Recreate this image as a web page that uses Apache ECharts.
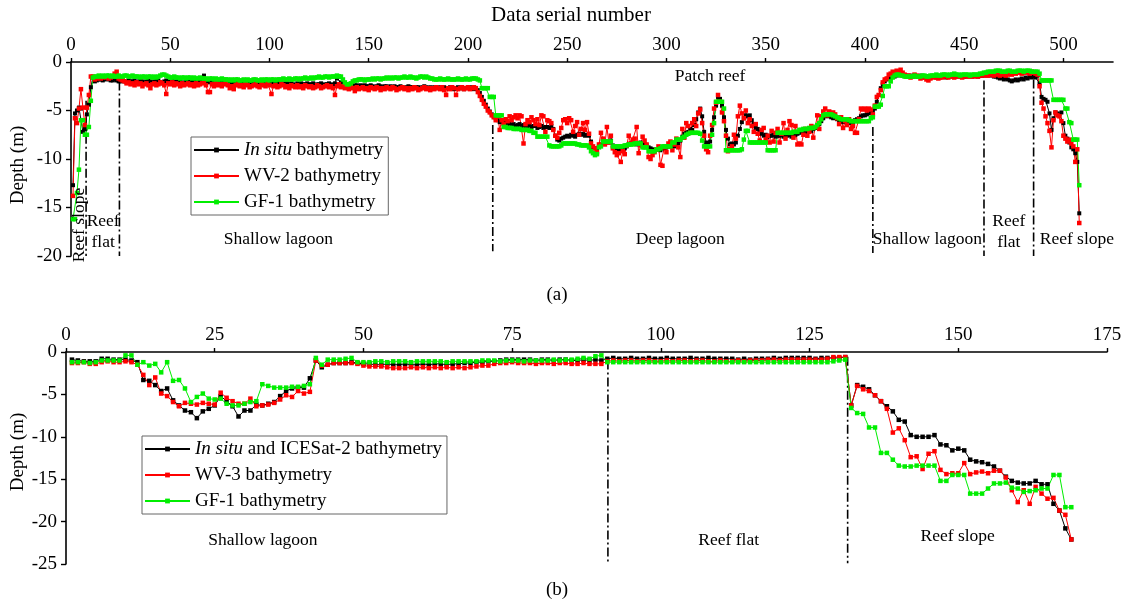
<!DOCTYPE html>
<html>
<head>
<meta charset="utf-8">
<script src="https://cdn.jsdelivr.net/npm/echarts@6/dist/echarts.min.js"></script>
<style>
  html, body { margin: 0; padding: 0; background: #fff; }
  #chart { width: 1130px; height: 608px; }
</style>
</head>
<body>
<div id="chart"></div>
<script>
// ---------- Profile (a): depth along the transect, data serial number 1..508 ----------
const insituA = [
  -12.7,-5.3,-5.0,-4.7,-4.8,-7.2,-6.9,-5.4,-4.4,-2.6,-1.6,-2.0,-1.9,-1.8,-1.8,-1.9,-1.8,-1.7,-1.8,-1.9,
  -1.9,-1.8,-1.9,-2.0,-2.0,-1.9,-2.0,-2.1,-1.9,-2.0,-2.0,-1.9,-2.1,-2.0,-1.9,-2.0,-2.1,-2.0,-1.9,-2.0,
  -2.1,-2.0,-2.0,-1.9,-2.1,-2.2,-2.0,-1.9,-2.0,-2.1,-2.0,-2.0,-2.1,-1.9,-2.0,-2.2,-2.1,-2.0,-2.0,-2.1,
  -2.0,-2.1,-2.0,-1.9,-2.0,-1.7,-1.4,-1.9,-2.1,-2.0,-2.1,-2.2,-2.0,-2.1,-2.0,-2.1,-2.2,-2.1,-2.0,-2.1,
  -2.2,-2.1,-2.1,-2.0,-2.2,-2.1,-2.2,-2.1,-2.0,-2.2,-2.1,-2.2,-2.3,-2.1,-2.2,-2.1,-2.2,-2.3,-2.2,-2.2,
  -2.3,-2.2,-2.2,-2.1,-2.3,-2.2,-2.3,-2.2,-2.2,-2.3,-2.2,-2.3,-2.4,-2.2,-2.3,-2.2,-2.3,-2.3,-2.2,-2.3,
  -2.3,-2.2,-2.4,-2.3,-2.3,-2.2,-2.4,-2.3,-2.3,-2.2,-2.3,-2.4,-2.2,-1.7,-1.5,-2.1,-2.3,-2.4,-2.4,-2.5,
  -2.4,-2.5,-2.4,-2.4,-2.5,-2.4,-2.5,-2.4,-2.5,-2.5,-2.4,-2.5,-2.6,-2.5,-2.4,-2.5,-2.6,-2.5,-2.5,-2.6,
  -2.5,-2.6,-2.5,-2.6,-2.6,-2.5,-2.6,-2.7,-2.6,-2.5,-2.6,-2.6,-2.7,-2.6,-2.6,-2.7,-2.6,-2.5,-2.6,-2.7,
  -2.6,-2.7,-2.6,-2.6,-2.7,-2.6,-2.7,-2.6,-2.7,-2.7,-2.6,-2.7,-2.8,-2.7,-2.6,-2.7,-2.7,-2.8,-2.7,-2.6,
  -2.7,-2.6,-2.8,-2.7,-2.9,-3.2,-3.6,-4.0,-4.4,-4.8,-5.1,-5.4,-5.6,-5.8,-6.0,-6.2,-6.1,-6.3,-6.2,-6.4,
  -6.3,-6.5,-6.4,-6.6,-6.5,-6.4,-6.6,-6.5,-6.7,-6.6,-6.5,-6.7,-6.6,-6.6,-6.8,-6.7,-6.6,-6.8,-6.7,-6.7,
  -6.8,-6.6,-6.9,-7.6,-8.0,-8.1,-7.9,-7.8,-7.7,-7.6,-7.7,-7.5,-7.6,-7.7,-7.5,-7.4,-7.5,-7.4,-7.6,-7.5,
  -7.6,-8.2,-8.8,-8.9,-9.0,-8.7,-8.5,-8.3,-8.2,-8.2,-8.3,-8.1,-8.6,-8.9,-9.1,-9.2,-9.0,-9.1,-8.9,-8.7,
  -8.5,-8.4,-8.3,-8.4,-8.5,-8.4,-8.3,-8.4,-8.5,-8.6,-8.8,-8.9,-9.0,-9.1,-9.0,-9.0,-9.1,-8.9,-8.9,-8.8,
  -8.7,-8.7,-8.6,-8.7,-8.6,-8.4,-8.1,-7.7,-7.4,-7.3,-7.2,-6.9,-7.0,-6.5,-5.9,-5.2,-4.8,-5.6,-7.2,-8.3,
  -8.4,-8.2,-7.0,-5.7,-4.5,-3.6,-3.8,-4.5,-5.7,-7.0,-7.9,-8.5,-8.4,-8.5,-8.3,-7.6,-6.9,-6.2,-5.8,-5.5,
  -5.6,-5.5,-6.0,-6.4,-6.8,-6.9,-7.2,-7.4,-7.6,-7.5,-7.7,-7.6,-7.6,-7.5,-7.7,-7.6,-7.6,-7.5,-7.7,-7.6,
  -7.6,-7.5,-7.7,-7.6,-7.5,-7.4,-7.3,-7.2,-7.1,-7.2,-7.1,-7.0,-7.1,-6.9,-6.8,-6.6,-6.4,-6.1,-5.8,-5.6,
  -5.5,-5.6,-5.7,-5.8,-5.7,-5.9,-6.0,-6.1,-6.2,-6.1,-6.2,-6.3,-6.1,-6.2,-6.0,-5.9,-5.8,-5.6,-5.5,-5.5,
  -5.4,-5.3,-5.2,-5.1,-4.8,-4.1,-3.4,-2.7,-2.3,-2.0,-1.8,-1.7,-1.6,-1.5,-1.5,-1.4,-1.3,-1.3,-1.4,-1.4,
  -1.4,-1.5,-1.4,-1.5,-1.4,-1.5,-1.5,-1.4,-1.5,-1.6,-1.5,-1.5,-1.6,-1.5,-1.5,-1.6,-1.5,-1.6,-1.5,-1.5,
  -1.6,-1.5,-1.5,-1.4,-1.5,-1.5,-1.4,-1.5,-1.4,-1.5,-1.5,-1.4,-1.4,-1.5,-1.4,-1.4,-1.5,-1.4,-1.4,-1.4,
  -1.3,-1.4,-1.3,-1.4,-1.5,-1.5,-1.6,-1.7,-1.6,-1.8,-1.7,-1.8,-1.9,-2.0,-1.9,-1.8,-1.9,-1.8,-1.7,-1.8,
  -1.6,-1.7,-1.5,-1.6,-1.5,-1.6,-1.4,-2.2,-3.6,-3.8,-3.9,-4.1,-5.3,-7.0,-5.8,-5.2,-5.3,-5.4,-5.2,-6.3,
  -7.6,-7.9,-8.3,-8.8,-9.0,-9.4,-10.3,-15.6
];
const wv2A = [
  -13.8,-5.8,-6.3,-4.8,-2.8,-4.7,-6.5,-4.7,-3.4,-1.5,-1.5,-1.8,-1.7,-1.6,-1.7,-1.6,-1.5,-1.6,-1.7,-1.6,
  -1.5,-1.2,-1.0,-1.7,-1.8,-1.9,-2.0,-2.2,-2.1,-2.3,-2.2,-2.4,-2.1,-2.3,-2.2,-2.5,-2.3,-2.2,-2.4,-2.7,
  -2.3,-2.2,-2.4,-2.3,-2.1,-2.2,-2.4,-3.3,-2.2,-2.3,-2.1,-2.4,-2.2,-2.3,-2.5,-2.2,-2.4,-2.3,-2.2,-2.4,
  -2.3,-2.5,-2.2,-2.4,-2.3,-2.2,-2.1,-2.4,-3.1,-3.1,-2.3,-2.5,-2.2,-2.4,-2.3,-2.5,-2.3,-2.2,-2.4,-2.7,
  -2.5,-2.8,-2.4,-2.3,-2.5,-2.4,-2.6,-2.3,-2.4,-2.6,-2.5,-2.4,-2.3,-2.5,-2.6,-2.3,-2.4,-2.5,-2.2,-2.4,
  -3.3,-2.5,-2.4,-2.6,-2.5,-2.3,-2.4,-2.6,-2.5,-2.7,-2.4,-2.5,-2.6,-2.4,-2.6,-2.5,-2.7,-2.4,-2.5,-2.6,
  -2.5,-2.7,-2.6,-2.4,-2.5,-2.7,-2.6,-2.5,-2.4,-2.6,-2.5,-2.7,-3.4,-2.5,-2.3,-2.6,-2.5,-2.7,-2.6,-2.8,
  -2.6,-2.7,-3.0,-2.6,-2.8,-2.7,-2.6,-2.8,-2.7,-2.9,-2.6,-2.7,-2.8,-2.6,-2.7,-2.9,-2.7,-2.8,-2.6,-2.7,
  -2.8,-2.6,-2.7,-2.9,-2.8,-2.7,-2.6,-2.8,-2.7,-2.9,-2.7,-2.8,-2.6,-2.7,-2.9,-2.8,-2.7,-2.6,-2.8,-2.7,
  -2.9,-2.7,-2.8,-2.6,-2.7,-2.8,-2.6,-2.9,-3.4,-2.7,-2.8,-2.6,-2.7,-3.4,-2.8,-2.7,-2.6,-2.8,-2.7,-2.6,
  -2.8,-2.7,-2.6,-2.7,-3.1,-3.5,-3.9,-4.3,-4.6,-5.0,-5.2,-5.5,-5.7,-6.0,-5.6,-7.0,-6.0,-6.4,-5.9,-6.1,
  -5.6,-6.0,-5.7,-5.5,-5.8,-5.5,-5.6,-8.4,-6.4,-6.0,-6.2,-5.7,-6.0,-6.4,-5.9,-6.5,-5.5,-5.6,-7.2,-6.0,
  -6.1,-6.3,-7.0,-7.6,-7.8,-7.3,-6.8,-6.0,-5.9,-6.3,-5.8,-6.0,-7.2,-6.6,-6.2,-7.5,-6.9,-6.3,-7.0,-6.2,
  -7.4,-8.4,-8.7,-8.9,-9.3,-8.5,-7.3,-7.9,-8.5,-6.7,-8.3,-7.6,-8.9,-9.3,-9.6,-9.4,-10.3,-9.2,-9.5,-8.6,
  -7.6,-8.4,-8.0,-7.9,-6.7,-9.4,-8.6,-7.7,-8.1,-8.5,-9.8,-10.0,-9.6,-9.3,-9.0,-8.7,-10.6,-10.7,-8.8,-9.3,
  -8.4,-8.2,-9.1,-8.5,-7.9,-8.8,-9.8,-6.9,-7.8,-6.3,-6.6,-7.3,-6.3,-5.9,-6.6,-5.3,-4.9,-6.3,-7.6,-9.0,
  -9.3,-7.6,-6.5,-4.8,-4.2,-3.4,-4.1,-5.2,-6.1,-7.6,-9.2,-9.0,-8.7,-7.5,-7.9,-5.6,-4.5,-5.3,-5.8,-5.0,
  -6.3,-5.9,-6.6,-7.2,-6.4,-7.4,-8.1,-7.0,-6.8,-8.0,-7.6,-8.3,-7.1,-8.2,-7.3,-6.9,-8.3,-7.4,-6.3,-7.9,
  -7.0,-6.1,-6.5,-7.8,-6.6,-8.5,-8.4,-8.5,-7.5,-6.9,-7.6,-7.2,-6.6,-7.8,-6.7,-5.5,-6.9,-5.6,-5.1,-4.8,
  -5.5,-5.1,-5.3,-5.2,-5.4,-5.8,-6.4,-5.7,-6.8,-6.1,-6.5,-5.9,-6.9,-6.6,-7.3,-7.3,-5.9,-4.8,-4.9,-4.8,
  -5.0,-4.8,-4.9,-5.4,-4.5,-3.6,-3.4,-2.9,-2.1,-1.8,-1.7,-1.3,-1.2,-1.0,-1.1,-0.9,-1.0,-0.8,-1.1,-1.3,
  -1.5,-1.4,-1.6,-1.5,-1.3,-1.4,-1.5,-1.7,-1.6,-1.5,-1.8,-1.9,-1.7,-1.6,-1.5,-1.6,-1.7,-1.5,-1.6,-1.4,
  -1.5,-1.6,-1.4,-1.5,-1.6,-1.5,-1.4,-1.5,-1.6,-1.5,-1.4,-1.5,-1.5,-1.4,-1.5,-1.4,-1.5,-1.4,-1.3,-1.4,
  -1.3,-1.4,-1.2,-1.3,-1.4,-1.3,-1.2,-1.4,-1.3,-1.2,-1.4,-1.3,-1.2,-1.3,-1.1,-1.2,-1.1,-1.0,-1.2,-1.1,
  -1.0,-1.1,-1.2,-1.0,-1.1,-1.2,-1.3,-2.5,-4.2,-4.8,-5.6,-6.3,-7.1,-8.8,-6.0,-5.2,-5.5,-5.6,-6.1,-7.6,
  -7.9,-8.2,-8.0,-8.4,-8.7,-10.3,-9.0,-16.6
];
const gf1A = [
  -16.2,-16.2,-13.5,-11.1,-6.0,-6.0,-7.5,-7.5,-6.7,-4.0,-1.6,-1.5,-1.5,-1.4,-1.5,-1.4,-1.5,-1.4,-1.4,-1.5,
  -1.4,-1.5,-1.5,-1.4,-1.5,-1.5,-1.4,-1.4,-1.5,-1.5,-1.4,-1.5,-1.5,-1.5,-1.6,-1.5,-1.5,-1.6,-1.5,-1.5,
  -1.6,-1.5,-1.6,-1.5,-1.4,-1.3,-1.3,-1.4,-1.5,-1.6,-1.6,-1.5,-1.6,-1.6,-1.7,-1.6,-1.6,-1.7,-1.6,-1.6,
  -1.7,-1.6,-1.7,-1.7,-1.6,-1.7,-1.7,-1.7,-1.8,-1.7,-1.7,-1.8,-1.7,-1.8,-1.8,-1.7,-1.8,-1.8,-1.8,-1.9,
  -1.8,-1.9,-1.8,-1.8,-1.9,-1.9,-1.8,-1.9,-1.8,-1.9,-1.9,-1.8,-1.8,-1.9,-1.9,-1.8,-1.9,-1.8,-1.8,-1.9,
  -1.8,-1.8,-1.9,-1.8,-1.8,-1.8,-1.7,-1.8,-1.8,-1.7,-1.8,-1.8,-1.7,-1.7,-1.8,-1.7,-1.7,-1.6,-1.7,-1.7,
  -1.6,-1.7,-1.6,-1.6,-1.5,-1.6,-1.6,-1.5,-1.5,-1.6,-1.5,-1.5,-1.5,-1.4,-1.5,-1.5,-1.8,-2.1,-2.3,-2.3,
  -2.2,-2.0,-1.9,-1.9,-1.8,-1.8,-1.8,-1.9,-1.8,-1.8,-1.8,-1.7,-1.8,-1.7,-1.7,-1.8,-1.7,-1.7,-1.6,-1.7,
  -1.6,-1.7,-1.6,-1.6,-1.7,-1.6,-1.6,-1.5,-1.6,-1.6,-1.5,-1.6,-1.6,-1.7,-1.6,-1.5,-1.5,-1.6,-1.5,-1.6,
  -1.7,-1.7,-1.8,-1.8,-1.8,-1.7,-1.8,-1.8,-1.8,-1.7,-1.8,-1.8,-1.8,-1.8,-1.7,-1.8,-1.8,-1.8,-1.7,-1.8,
  -1.8,-1.7,-1.7,-1.7,-1.8,-1.9,-2.7,-2.7,-2.7,-2.7,-3.6,-3.6,-3.6,-5.5,-5.5,-5.5,-5.5,-6.7,-6.7,-6.8,
  -6.8,-6.8,-6.9,-6.9,-6.9,-6.9,-7.0,-7.0,-7.0,-7.0,-7.1,-7.1,-7.3,-7.3,-7.7,-7.7,-7.7,-7.7,-7.7,-7.7,
  -8.6,-8.7,-8.7,-8.7,-8.7,-8.7,-8.6,-8.4,-8.4,-8.4,-8.4,-8.4,-8.4,-8.4,-8.5,-8.5,-8.6,-8.6,-8.6,-8.6,
  -8.8,-9.2,-9.4,-9.6,-9.5,-8.8,-8.7,-8.2,-8.2,-8.2,-8.2,-8.2,-8.7,-8.7,-8.7,-8.7,-8.7,-8.7,-8.6,-8.6,
  -8.5,-8.5,-8.5,-8.4,-8.4,-8.4,-8.4,-8.8,-8.8,-8.8,-9.2,-9.2,-9.2,-9.2,-9.0,-9.0,-8.9,-8.7,-8.7,-8.7,
  -8.7,-8.7,-8.3,-8.3,-8.0,-8.0,-8.0,-7.8,-7.7,-7.5,-7.4,-7.3,-7.3,-7.3,-7.3,-7.3,-7.4,-8.1,-8.7,-8.7,
  -8.7,-8.7,-7.5,-6.3,-4.1,-4.1,-4.1,-4.1,-4.8,-9.1,-9.1,-9.1,-9.1,-9.1,-9.1,-9.1,-9.1,-9.0,-8.0,-7.1,
  -7.1,-8.3,-8.3,-8.3,-8.3,-8.3,-8.3,-8.3,-8.3,-8.3,-9.1,-9.1,-9.1,-9.1,-9.1,-7.3,-7.3,-7.3,-7.3,-7.3,
  -7.3,-7.3,-7.3,-7.2,-7.2,-7.2,-7.0,-7.0,-6.9,-6.9,-6.9,-6.8,-6.8,-6.8,-6.7,-6.5,-6.3,-5.9,-5.5,-5.4,
  -5.4,-5.4,-5.4,-5.5,-5.6,-5.7,-5.8,-5.9,-5.9,-5.9,-5.9,-6.0,-6.1,-6.1,-6.1,-6.1,-6.1,-6.1,-6.1,-6.1,
  -6.1,-6.1,-5.8,-5.7,-4.6,-4.6,-4.6,-4.4,-3.5,-2.5,-2.5,-2.5,-2.0,-1.6,-1.4,-1.3,-1.3,-1.4,-1.4,-1.5,
  -1.5,-1.5,-1.5,-1.5,-1.4,-1.5,-1.5,-1.5,-1.4,-1.4,-1.5,-1.5,-1.4,-1.4,-1.4,-1.3,-1.4,-1.4,-1.3,-1.3,
  -1.3,-1.4,-1.3,-1.3,-1.2,-1.3,-1.3,-1.4,-1.3,-1.3,-1.3,-1.3,-1.4,-1.3,-1.3,-1.3,-1.3,-1.2,-1.2,-1.1,
  -1.1,-1.0,-1.0,-1.0,-1.0,-0.9,-0.9,-0.9,-1.0,-1.0,-1.0,-0.9,-0.9,-1.0,-1.0,-1.0,-0.9,-0.9,-0.9,-1.0,
  -0.9,-0.9,-0.9,-1.0,-1.0,-1.0,-1.0,-1.2,-1.9,-1.9,-1.9,-1.9,-1.9,-1.9,-3.9,-3.9,-3.9,-3.9,-3.9,-3.9,
  -4.8,-4.8,-6.2,-6.3,-8.0,-8.0,-8.0,-12.7
];

// ---------- Profile (b): data serial number 1..169 ----------
const insituB = [
  -0.9,-1.0,-1.1,-1.1,-1.1,-0.8,-0.8,-0.9,-0.9,-0.9,
  -1.0,-1.2,-3.3,-3.4,-3.9,-4.6,-4.3,-5.7,-6.3,-6.9,
  -7.1,-7.8,-7.0,-6.7,-6.3,-5.2,-5.8,-6.4,-7.6,-6.9,
  -6.9,-6.2,-6.3,-6.1,-5.9,-5.2,-4.6,-4.3,-4.2,-4.2,
  -3.1,-1.0,-1.8,-1.5,-1.3,-1.3,-1.3,-1.2,-1.3,-1.4,
  -1.4,-1.5,-1.5,-1.4,-1.5,-1.5,-1.4,-1.5,-1.5,-1.4,
  -1.5,-1.4,-1.4,-1.5,-1.4,-1.4,-1.3,-1.3,-1.2,-1.2,
  -1.1,-1.1,-1.0,-0.9,-0.9,-0.9,-0.9,-0.9,-1.0,-0.9,
  -0.9,-1.0,-0.9,-0.9,-1.0,-1.0,-0.9,-1.0,-0.9,-1.0,
  -0.8,-0.7,-0.8,-0.8,-0.7,-0.8,-0.8,-0.7,-0.8,-0.8,
  -0.7,-0.8,-0.8,-0.8,-0.7,-0.8,-0.8,-0.7,-0.8,-0.8,
  -0.8,-0.8,-0.9,-0.8,-0.9,-0.8,-0.8,-0.8,-0.7,-0.8,
  -0.7,-0.7,-0.7,-0.7,-0.7,-0.8,-0.7,-0.7,-0.7,-0.7,-0.6,
  -6.3,-3.9,-4.1,-4.4,-5.1,-5.8,-6.4,-7.0,-8.0,
  -8.2,-9.8,-10.0,-10.0,-10.0,-9.8,-10.9,-11.0,-11.6,-11.4,
  -11.6,-12.7,-12.9,-13.0,-13.2,-13.5,-14.0,-14.7,-15.2,-15.4,
  -15.5,-15.5,-15.2,-15.6,-15.6,-17.9,-18.7,-20.8,-22.1
];
const wv3B = [
  -1.3,-1.3,-1.2,-1.4,-1.4,-1.2,-1.1,-1.2,-1.2,-1.1,
  -1.2,-1.5,-2.7,-3.9,-3.0,-4.9,-5.2,-5.9,-6.4,-6.0,
  -6.1,-6.2,-6.0,-6.1,-6.2,-4.8,-5.4,-5.8,-6.1,-6.1,
  -5.5,-6.4,-6.3,-6.2,-6.0,-5.6,-5.1,-5.3,-4.6,-4.9,
  -4.7,-1.0,-1.6,-1.5,-1.3,-1.3,-1.3,-1.3,-1.4,-1.6,
  -1.7,-1.7,-1.7,-1.8,-1.9,-1.9,-1.9,-1.8,-1.9,-1.8,
  -1.9,-1.8,-1.9,-1.8,-1.9,-1.8,-1.9,-1.8,-1.7,-1.6,
  -1.6,-1.4,-1.3,-1.3,-1.2,-1.3,-1.3,-1.3,-1.4,-1.3,
  -1.3,-1.4,-1.3,-1.3,-1.4,-1.4,-1.3,-1.4,-1.4,-1.4,
  -1.1,-1.0,-1.1,-1.0,-1.0,-1.1,-1.0,-1.0,-1.1,-1.1,
  -1.0,-1.1,-1.0,-1.0,-1.1,-1.0,-1.0,-1.1,-1.1,-1.0,
  -1.1,-1.1,-1.0,-1.1,-1.0,-1.0,-1.0,-0.9,-0.9,-1.0,
  -0.9,-0.9,-0.9,-0.9,-0.9,-0.9,-0.9,-0.8,-0.6,-0.6,-0.6,
  -6.3,-4.0,-4.4,-4.6,-5.1,-5.8,-6.7,-9.5,-9.0,
  -10.4,-12.4,-12.3,-13.8,-12.0,-11.7,-13.9,-14.4,-14.3,-14.3,
  -13.1,-14.4,-14.2,-14.1,-14.3,-14.0,-14.0,-14.8,-16.3,-17.7,
  -16.3,-17.9,-15.9,-16.7,-17.3,-17.2,-18.7,-19.2,-22.1
];
const gf1B = [
  -1.2,-1.2,-1.2,-1.3,-1.2,-1.0,-1.0,-1.0,-1.0,-0.4,
  -0.4,-1.5,-1.2,-1.6,-1.4,-2.4,-1.2,-3.4,-3.3,-4.3,
  -5.9,-5.3,-4.9,-5.5,-5.6,-5.5,-6.1,-6.3,-6.3,-6.1,
  -5.9,-5.8,-3.8,-4.0,-4.2,-4.2,-4.2,-4.1,-4.1,-4.0,
  -3.8,-0.7,-1.5,-0.9,-0.9,-0.9,-0.8,-0.7,-1.2,-1.2,
  -1.2,-1.1,-1.1,-1.2,-1.1,-1.1,-1.1,-1.2,-1.1,-1.1,
  -1.1,-1.1,-1.1,-1.2,-1.1,-1.1,-1.1,-1.1,-1.1,-1.0,
  -1.0,-1.0,-1.1,-1.0,-1.0,-1.0,-1.1,-1.0,-1.0,-1.0,
  -1.0,-0.9,-1.0,-0.9,-0.9,-0.8,-0.7,-0.8,-0.5,-0.4,
  -1.2,-1.2,-1.2,-1.2,-1.2,-1.2,-1.2,-1.2,-1.2,-1.2,
  -1.2,-1.2,-1.2,-1.2,-1.2,-1.2,-1.2,-1.2,-1.2,-1.2,
  -1.2,-1.2,-1.2,-1.2,-1.2,-1.2,-1.2,-1.2,-1.2,-1.2,
  -1.2,-1.2,-1.2,-1.2,-1.2,-1.2,-1.2,-1.2,-1.1,-1.0,-0.9,
  -6.6,-7.2,-7.3,-8.9,-8.9,-11.9,-11.9,-12.7,-13.4,
  -13.5,-13.5,-13.4,-13.4,-13.4,-13.4,-15.2,-15.2,-14.5,-14.5,
  -14.5,-16.7,-16.7,-16.7,-16.1,-15.5,-15.5,-15.4,-16.0,-16.1,
  -16.5,-16.4,-16.3,-16.1,-16.1,-14.5,-14.5,-18.3,-18.3
];

// Tick labels
const ticksAx = [0, 50, 100, 150, 200, 250, 300, 350, 400, 450, 500];
const ticksAy = [-20, -15, -10, -5, 0];
const ticksBx = [0, 25, 50, 75, 100, 125, 150, 175];
const ticksBy = [-25, -20, -15, -10, -5, 0];

// Geomorphic zone boundaries: [serial number, depth at top, depth at bottom]
const boundsA = [[7.6, -4.0, -20], [24.4, -2.0, -20], [212.5, -6.5, -19.5], [404, -6.7, -19.7], [460, -1.9, -20], [485, -1.8, -20]];
const boundsB = [[91.1, -1.0, -24.9], [131.4, -0.55, -24.9]];

// Zone names and their anchor in data coordinates
const zonesA = [
  { name: 'Reef slope', at: [4, -16.8], vertical: true },
  { name: 'Reef\nflat', at: [16.2, -17.5] },
  { name: 'Shallow lagoon', at: [104.5, -18.3] },
  { name: 'Deep lagoon', at: [307, -18.3] },
  { name: 'Patch reef', at: [322, -1.45] },
  { name: 'Shallow lagoon', at: [431.5, -18.3] },
  { name: 'Reef\nflat', at: [472.5, -17.5] },
  { name: 'Reef slope', at: [506.8, -18.3] }
];
const zonesB = [
  { name: 'Shallow lagoon', at: [33.1, -22.2] },
  { name: 'Reef flat', at: [111.4, -22.2] },
  { name: 'Reef slope', at: [149.9, -21.8] }
];

const namesA = ['In situ bathymetry', 'WV-2 bathymetry', 'GF-1 bathymetry'];
const namesB = ['In situ and ICESat-2 bathymetry', 'WV-3 bathymetry', 'GF-1 bathymetry'];

const FONT = '"Liberation Serif", "Times New Roman", serif';
const BLACK = '#000000', RED = '#ff0000', GREEN = '#00ee00';

const toXY = arr => arr.map((v, i) => [i + 1, v]);

function profile(name, values, color, size, g) {
  return {
    type: 'line', name, xAxisIndex: g, yAxisIndex: g,
    data: toXY(values),
    symbol: 'rect', symbolSize: size, showAllSymbol: true,
    lineStyle: { color, width: 1 },
    itemStyle: { color },
    emphasis: { disabled: true },
    z: 3
  };
}

function boundaries(list, g) {
  return list.map(b => ({
    type: 'line', xAxisIndex: g, yAxisIndex: g,
    data: [[b[0], b[1]], [b[0], b[2]]],
    symbol: 'none',
    lineStyle: { color: '#000', width: 1.6, type: [9, 3, 2, 3] },
    emphasis: { disabled: true },
    z: 2
  }));
}

function zoneLabels(list, g) {
  return {
    type: 'scatter', xAxisIndex: g, yAxisIndex: g,
    symbolSize: 0, silent: true, z: 5,
    data: list.map(z => ({
      name: z.name, value: z.at,
      label: z.vertical ? { rotate: 90 } : {}
    })),
    label: {
      show: true, position: 'inside', formatter: '{b}',
      fontFamily: FONT, fontSize: 17.5, color: '#000', lineHeight: 21,
      textBorderWidth: 0, textBorderColor: 'transparent', opacity: 1
    },
    itemStyle: { opacity: 1 }
  };
}

function xAxis(g, max, interval, ticks) {
  return {
    gridIndex: g, type: 'value', position: 'top', min: 0, max, interval,
    axisLine: { show: true, onZero: false, lineStyle: { color: '#000', width: 1.6 } },
    axisTick: { show: true, length: 4, customValues: ticks, lineStyle: { color: '#000', width: 1.4 } },
    axisLabel: { customValues: ticks, margin: 7, fontFamily: FONT, fontSize: 19, color: '#000' },
    splitLine: { show: false }
  };
}
function yAxis(g, min, ticks) {
  return {
    gridIndex: g, type: 'value', min, max: 0, interval: 5,
    axisLine: { show: true, onZero: false, lineStyle: { color: '#000', width: 1.6 } },
    axisTick: { show: true, length: 5, customValues: ticks, lineStyle: { color: '#000', width: 1.4 } },
    axisLabel: { customValues: ticks, margin: 9, fontFamily: FONT, fontSize: 19, color: '#000' },
    splitLine: { show: false }
  };
}

function legend(names, left, top) {
  return {
    data: names, orient: 'vertical', left, top,
    backgroundColor: '#fff',
    borderColor: '#666', borderWidth: 1, borderRadius: 0,
    padding: [3, 5, 3, 2], itemGap: 6, itemWidth: 45, itemHeight: 6,
    selectedMode: false,
    formatter: n => n.startsWith('In situ') ? '{i|In situ}' + n.slice(7) : n,
    textStyle: {
      fontFamily: FONT, fontSize: 19, color: '#000', lineHeight: 20,
      rich: { i: { fontFamily: FONT, fontSize: 19, fontStyle: 'italic', color: '#000', lineHeight: 20 } }
    }
  };
}

function txt(text, x, y, size, rot) {
  return {
    type: 'text', x, y, rotation: rot || 0, silent: true,
    style: { text, font: size + 'px ' + FONT, fill: '#000', align: 'center', verticalAlign: 'middle' }
  };
}

const chart = echarts.init(document.getElementById('chart'), null, { renderer: 'canvas' });
chart.setOption({
  backgroundColor: '#fff',
  animation: false,
  grid: [
    { left: 71, top: 62, width: 1042, height: 194 },
    { left: 66, top: 352, width: 1041, height: 212 }
  ],
  xAxis: [xAxis(0, 525, 50, ticksAx), xAxis(1, 175, 25, ticksBx)],
  yAxis: [yAxis(0, -20, ticksAy), yAxis(1, -25, ticksBy)],
  legend: [legend(namesA, 191, 137), legend(namesB, 142, 436)],
  graphic: [
    txt('Data serial number', 571, 15, 21),
    txt('Depth (m)', 18, 165, 19, Math.PI / 2),
    txt('Depth (m)', 18, 452, 19, Math.PI / 2),
    txt('(a)', 557, 295, 19),
    txt('(b)', 557, 590, 19)
  ],
  series: [
    ...boundaries(boundsA, 0),
    ...boundaries(boundsB, 1),
    profile(namesA[0], insituA, BLACK, 4, 0),
    profile(namesA[1], wv2A, RED, 4.5, 0),
    profile(namesA[2], gf1A, GREEN, 4.5, 0),
    profile(namesB[0], insituB, BLACK, 4.5, 1),
    profile(namesB[1], wv3B, RED, 4.5, 1),
    profile(namesB[2], gf1B, GREEN, 4.5, 1),
    zoneLabels(zonesA, 0),
    zoneLabels(zonesB, 1)
  ]
});
</script>
</body>
</html>
